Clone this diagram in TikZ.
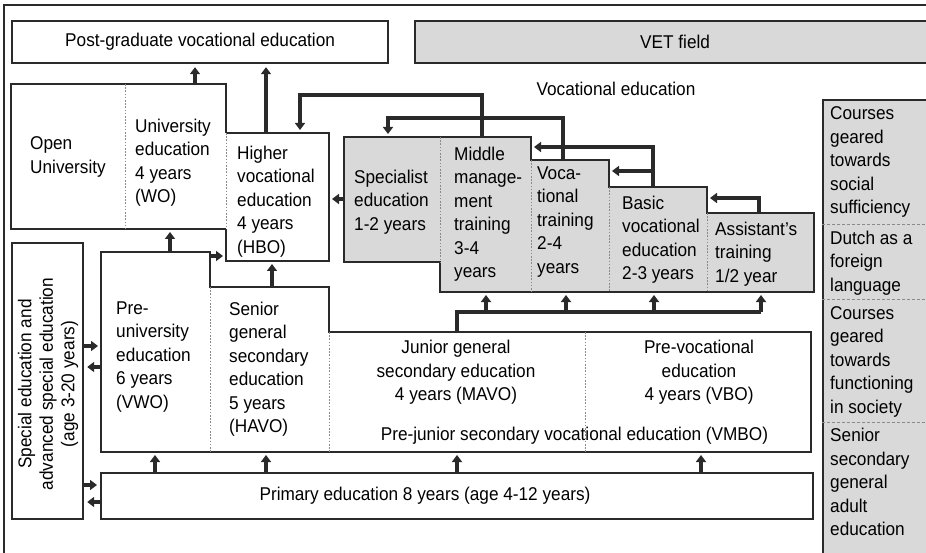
\documentclass[tikz,border=0pt]{standalone}
\usepackage{fontspec}
\setmainfont[FakeStretch=0.93]{Liberation Sans}
\usetikzlibrary{arrows.meta}
\definecolor{ln}{HTML}{2A2A2A}
\definecolor{gf}{HTML}{D9D9D9}
\definecolor{dl}{HTML}{8A8A8A}
\newcommand\fs{\fontsize{18.5}{23.5}\selectfont}
\tikzset{
  bx/.style={draw=ln, line width=2.2pt},
  conn/.style={draw=ln, line width=3.3pt, shorten >=3pt, -{Triangle[width=10pt,length=7pt]}},
  seg/.style={draw=ln, line width=3.3pt},
  dv/.style={draw=dl, line width=0.9pt, dash pattern=on 1.6pt off 1.6pt},
  dh/.style={draw=dl, line width=0.9pt, dash pattern=on 3pt off 2pt},
  txt/.style={inner sep=0pt, anchor=north west, align=left, font=\fs, execute at begin node=\strut},
  ctxt/.style={inner sep=0pt, anchor=north, align=center, font=\fs, execute at begin node=\strut},
  ltxt/.style={inner sep=0pt, anchor=base, font=\fs},
}
\begin{document}
\begin{tikzpicture}[x=1pt,y=-1pt]
\useasboundingbox (0,0) rectangle (926,553);
\clip (0,0) rectangle (926,553);
% outer frame
\draw[ln, line width=1.3pt] (935,5) -- (4,5) -- (4,560);

% top boxes
\node[bx, fill=white, minimum width=376pt, minimum height=42pt, anchor=north west, inner sep=0pt, font=\fs] (pg) at (11,20) {Post-graduate vocational education};
\node[bx, fill=gf, minimum width=520pt, minimum height=42pt, anchor=north west, inner sep=0pt, font=\fs] (vet) at (414,20) {VET field};

% university block
\fill[white] (11,84) rectangle (226,229);
\draw[bx] (226,133) -- (226,84) -- (11,84) -- (11,229) -- (226,229);
\coordinate (uT) at (195,84);
\coordinate (uB) at (170,229);
% HBO block
\draw[bx, fill=white] (226,229) -- (226,261) -- (329,261) -- (329,133) -- (226,133);
\coordinate (hT) at (266,133);
\coordinate (hT2) at (300,133);
\coordinate (hR) at (329,199);
\coordinate (hB) at (272,261);
\coordinate (hL) at (226,256);
\draw[dv] (125,84) -- (125,229);
\draw[dv] (226,133) -- (226,229);

% vocational staircase
\draw[bx, fill=gf] (344,137) -- (531,137) -- (531,160) -- (609,160) -- (609,187) -- (707,187) -- (707,213) -- (814,213) -- (814,292) -- (440,292) -- (440,262) -- (344,262) -- cycle;
\draw[dv] (440,137) -- (440,262);
\draw[dv] (531,160) -- (531,292);
\draw[dv] (609,187) -- (609,292);
\draw[dv] (707,213) -- (707,292);
\coordinate (sT) at (388,137);
\coordinate (sL) at (344,199);
\coordinate (mT) at (482,137);
\coordinate (mR) at (531,147);
\coordinate (vT) at (563,160);
\coordinate (vR) at (609,171);
\coordinate (bT) at (653,187);
\coordinate (bR) at (707,198);
\coordinate (aT) at (759,213);

% secondary block
\draw[bx, fill=white] (101,252) -- (210,252) -- (210,287) -- (329,287) -- (329,332) -- (811,332) -- (811,452) -- (101,452) -- cycle;
\draw[dv] (210,287) -- (210,452);
\draw[dv] (329,332) -- (329,452);
\draw[dv] (585,332) -- (585,452);
\coordinate (pT) at (170,252);
\coordinate (pR) at (210,256);
\coordinate (snT) at (272,287);
\coordinate (jT) at (457,332);

% special education
\node[bx, fill=white, minimum width=71pt, minimum height=276pt, anchor=north west, inner sep=0pt] (sp) at (11,242) {};
% primary
\node[bx, fill=white, minimum width=712pt, minimum height=46pt, anchor=north west, inner sep=0pt] (pr) at (100,472) {};
% right box
\node[bx, fill=gf, minimum width=120pt, minimum height=470pt, anchor=north west, inner sep=0pt] (rb) at (822,99) {};
\draw[dh] (822,224) -- (930,224);
\draw[dh] (822,299) -- (930,299);
\draw[dh] (822,422) -- (930,422);

% texts
\node[txt] (tou) at (30,136.5) {Open\\University};
\node[txt] (two) at (135,118.5) {University\\education\\4 years\\(WO)};
\node[txt] (thbo) at (237,145.5) {Higher\\vocational\\education\\4 years\\(HBO)};
\node[ltxt] (tvoc) at (616,96) {Vocational education};
\node[txt] (tspec) at (354,169.5) {Specialist\\education\\1-2 years};
\node[txt] (tmid) at (454,146.5) {Middle\\manage-\\ment\\training\\3-4\\years};
\node[txt] (tvt) at (537,166.5) {Voca-\\tional\\training\\2-4\\years};
\node[txt] (tbas) at (622,195.5) {Basic\\vocational\\education\\2-3 years};
\node[txt] (tass) at (715,221.5) {Assistant’s\\training\\1/2 year};
\node[txt] (tvwo) at (116,301.5) {Pre-\\university\\education\\6 years\\(VWO)};
\node[txt] (thavo) at (229,301.5) {Senior\\general\\secondary\\education\\5 years\\(HAVO)};
\node[ctxt] (tmavo) at (456,340) {Junior general\\secondary education\\4 years (MAVO)};
\node[ctxt] (tvbo) at (699,340) {Pre-vocational\\education\\4 years (VBO)};
\node[ltxt] (tvmbo) at (574.5,440) {Pre-junior secondary vocational education (VMBO)};
\node[ltxt] (tprim) at (425,500) {Primary education 8 years (age 4-12 years)};
\node[rotate=90, align=center, inner sep=0pt, font=\fontsize{18.5}{21.5}\selectfont] (tsp) at (48,384) {Special education and\\advanced special education\\(age 3-20 years)};
\node[txt] (tr1) at (830,106.5) {Courses\\geared\\towards\\social\\sufficiency};
\node[txt] (tr2) at (830,230.5) {Dutch as a\\foreign\\language};
\node[txt] (tr3) at (830,306) {Courses\\geared\\towards\\functioning\\in society};
\node[txt] (tr4) at (830,428) {Senior\\secondary\\general\\adult\\education};

% connectors
\draw[conn] (uT) -- (uT |- pg.south);
\draw[conn] (hT) -- (hT |- pg.south);
\draw[conn] (mT) -- ++(0,-42) -| (hT2);
\draw[conn] (vT) -- ++(0,-42) -| (sT);
\draw[conn] (bT) -- ++(0,-40) -- (mR);
\draw[conn] (bT |- vR) -- (vR);
\draw[conn] (aT) -- ++(0,-15) -- (bR);
\draw[conn] (sL) -- (hR);
\draw[seg] (jT) -- ++(0,-20) -- (761,312);
\draw[conn] (486,312) -- (486,292);
\draw[conn] (566,312) -- (566,292);
\draw[conn] (654,312) -- (654,292);
\draw[conn] (761,312) -- (761,292);
\draw[conn] (pT) -- (uB);
\draw[conn] (pR) -- (hL);
\draw[conn] (snT) -- (hB);
\draw[conn] (sp.east |- 0,346) -- (101,346);
\draw[conn] (101,367) -- (sp.east |- 0,367);
\draw[conn] (sp.east |- 0,485) -- (pr.west |- 0,485);
\draw[conn] (pr.west |- 0,502) -- (sp.east |- 0,502);
\draw[conn] (pr.north -| 155,0) -- (155,452);
\draw[conn] (pr.north -| 266,0) -- (266,452);
\draw[conn] (pr.north -| 457,0) -- (457,452);
\draw[conn] (pr.north -| 701,0) -- (701,452);
\end{tikzpicture}
\end{document}
